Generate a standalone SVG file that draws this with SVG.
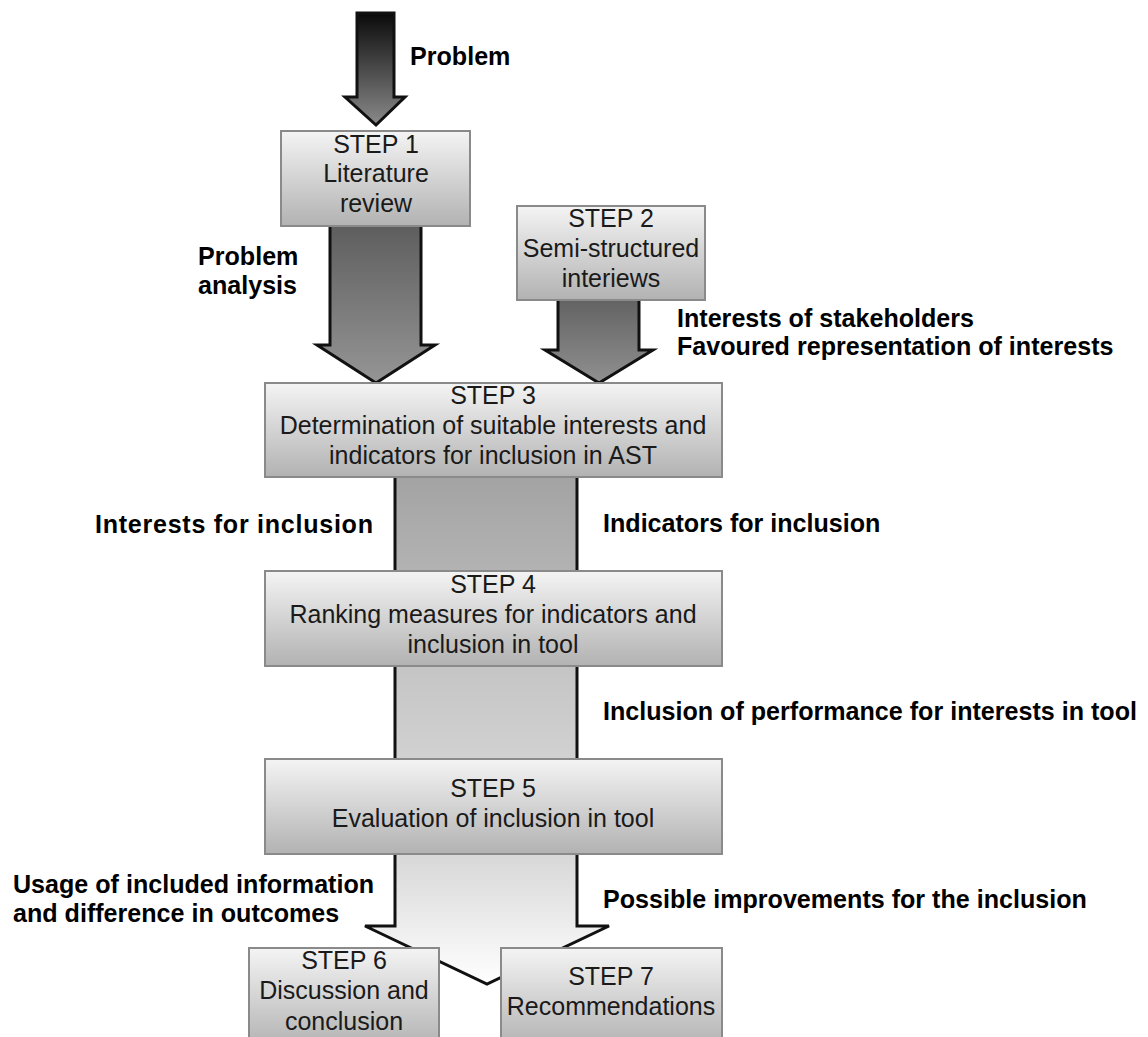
<svg xmlns="http://www.w3.org/2000/svg" width="1148" height="1037" viewBox="0 0 1148 1037">
  <defs>
    <linearGradient id="boxG" x1="0" y1="0" x2="0" y2="1">
      <stop offset="0" stop-color="#f4f4f4"/>
      <stop offset="1" stop-color="#b2b2b2"/>
    </linearGradient>
    <linearGradient id="gProb" x1="0" y1="0" x2="0" y2="1">
      <stop offset="0" stop-color="#0a0a0a"/>
      <stop offset="1" stop-color="#8a8a8a"/>
    </linearGradient>
    <linearGradient id="gA1" x1="0" y1="0" x2="0" y2="1">
      <stop offset="0" stop-color="#5c5c5c"/>
      <stop offset="1" stop-color="#959595"/>
    </linearGradient>
    <linearGradient id="gA2" x1="0" y1="0" x2="0" y2="1">
      <stop offset="0" stop-color="#606060"/>
      <stop offset="1" stop-color="#909090"/>
    </linearGradient>
    <linearGradient id="gA3" x1="0" y1="0" x2="0" y2="1">
      <stop offset="0" stop-color="#a2a2a2"/>
      <stop offset="1" stop-color="#b4b4b4"/>
    </linearGradient>
    <linearGradient id="gA4" x1="0" y1="0" x2="0" y2="1">
      <stop offset="0" stop-color="#c4c4c4"/>
      <stop offset="1" stop-color="#d2d2d2"/>
    </linearGradient>
    <linearGradient id="gA5" x1="0" y1="0" x2="0" y2="1">
      <stop offset="0" stop-color="#d6d6d6"/>
      <stop offset="1" stop-color="#ffffff"/>
    </linearGradient>
  </defs>
  <style>
    .box { fill: url(#boxG); stroke: #8a8a8a; stroke-width: 2; }
    .arr { stroke: #111; stroke-width: 3; stroke-linejoin: miter; }
    .bt { font-family: "Liberation Sans", Arial, sans-serif; font-size: 25px; fill: #1a1a1a; text-anchor: middle; }
    .lbl { font-family: "Liberation Sans", Arial, sans-serif; font-size: 25.1px; font-weight: bold; fill: #000; }
  </style>

  <g id="connectors">
    <polygon class="arr" fill="url(#gProb)" points="357,13 394,13 394,97 405,97 376,125 345,97 357,97"/>
    <polygon class="arr" fill="url(#gA1)" points="330,220 421,220 421,345 435,345 376,383 317,345 330,345"/>
    <polygon class="arr" fill="url(#gA2)" points="558,295 639,295 639,350 653,350 599,383 545,350 558,350"/>
    <rect x="395" y="470" width="182" height="108" fill="url(#gA3)"/>
    <line class="arr" x1="395" y1="470" x2="395" y2="578"/>
    <line class="arr" x1="577" y1="470" x2="577" y2="578"/>
    <rect x="395" y="660" width="182" height="106" fill="url(#gA4)"/>
    <line class="arr" x1="395" y1="660" x2="395" y2="766"/>
    <line class="arr" x1="577" y1="660" x2="577" y2="766"/>
    <polygon class="arr" fill="url(#gA5)" points="395,850 577,850 577,926 609,926 487,984 365,926 395,926"/>
  </g>

  <g id="label-problem"><text class="lbl" x="410" y="65">Problem</text></g>
  <g id="label-analysis"><text class="lbl" x="198" y="265">Problem</text><text class="lbl" x="198" y="294">analysis</text></g>
  <g id="label-stakeholders"><text class="lbl" x="677" y="327">Interests of stakeholders</text><text class="lbl" x="677" y="355">Favoured representation of interests</text></g>
  <g id="label-interests"><text class="lbl" x="95" y="533" textLength="278" lengthAdjust="spacing">Interests for inclusion</text></g>
  <g id="label-indicators"><text class="lbl" x="603" y="532">Indicators for inclusion</text></g>
  <g id="label-performance"><text class="lbl" x="603" y="720">Inclusion of performance for interests in tool</text></g>
  <g id="label-usage"><text class="lbl" x="13" y="893">Usage of included information</text><text class="lbl" x="13" y="922">and difference in outcomes</text></g>
  <g id="label-improvements"><text class="lbl" x="603" y="908">Possible improvements for the inclusion</text></g>

  <g id="step1">
    <rect class="box" x="281" y="131" width="189" height="95"/>
    <text class="bt" x="376" y="153">STEP 1</text>
    <text class="bt" x="376" y="182">Literature</text>
    <text class="bt" x="376" y="212">review</text>
  </g>
  <g id="step2">
    <rect class="box" x="517" y="206" width="188" height="94"/>
    <text class="bt" x="611" y="227">STEP 2</text>
    <text class="bt" x="611" y="257">Semi-structured</text>
    <text class="bt" x="611" y="287">interiews</text>
  </g>
  <g id="step3">
    <rect class="box" x="265" y="383" width="457" height="94"/>
    <text class="bt" x="493" y="404">STEP 3</text>
    <text class="bt" x="493" y="434">Determination of suitable interests and</text>
    <text class="bt" x="493" y="464">indicators for inclusion in AST</text>
  </g>
  <g id="step4">
    <rect class="box" x="265" y="571" width="457" height="95"/>
    <text class="bt" x="493" y="593">STEP 4</text>
    <text class="bt" x="493" y="623">Ranking measures for indicators and</text>
    <text class="bt" x="493" y="653">inclusion in tool</text>
  </g>
  <g id="step5">
    <rect class="box" x="265" y="759" width="457" height="95"/>
    <text class="bt" x="493" y="797">STEP 5</text>
    <text class="bt" x="493" y="827">Evaluation of inclusion in tool</text>
  </g>
  <g id="step6">
    <rect class="box" x="249" y="948" width="190" height="100"/>
    <text class="bt" x="344" y="969">STEP 6</text>
    <text class="bt" x="344" y="999">Discussion and</text>
    <text class="bt" x="344" y="1030">conclusion</text>
  </g>
  <g id="step7">
    <rect class="box" x="501" y="948" width="221" height="100"/>
    <text class="bt" x="611" y="985">STEP 7</text>
    <text class="bt" x="611" y="1015">Recommendations</text>
  </g>
</svg>
